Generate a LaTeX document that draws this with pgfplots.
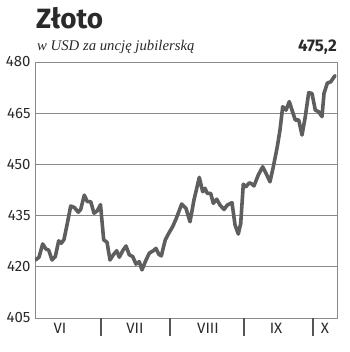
\documentclass[border=0pt]{standalone}
\usepackage{pgfplots}
\pgfplotsset{compat=1.18}
\usepackage{fontspec}
\setmainfont{Fira Sans}
\newfontfamily\serifit{Liberation Serif}[ItalicFont={Liberation Serif Italic}]
\definecolor{linegray}{HTML}{5E5E5E}
\definecolor{gridgray}{HTML}{8A8A8A}
\definecolor{txt}{HTML}{2A2A2A}
\begin{document}
\begin{tikzpicture}[x=1bp,y=1bp]
\useasboundingbox (0,0) rectangle (350,352);
\node[anchor=base west, inner sep=0pt, font=\fontsize{28}{30}\selectfont\bfseries, text=txt] at (36,324) {Złoto};
\node[anchor=base west, inner sep=0pt, font=\serifit\itshape\fontsize{14.8}{16}\selectfont, text=txt] at (37,302) {w USD za uncję jubilerską};
\node[anchor=base east, inner sep=0pt, font=\fontsize{17}{19}\selectfont\bfseries, text=txt] at (337,301) {475,2};
\begin{axis}[
  at={(35bp,34bp)}, anchor=south west,
  scale only axis, width=302bp, height=256bp,
  xmin=35, xmax=337, ymin=405, ymax=480,
  ytick={405,420,435,450,465,480},
  ymajorgrids, major grid style={gridgray, line width=0.9bp},
  axis line style={gridgray, line width=0.9bp},
  ytick style={draw=none},
  xtick={60,135,208,276,325},
  xticklabels={VI,VII,VIII,IX,X},
  xtick pos=bottom,
  major tick length=0pt,
  tick align=outside,
  extra x ticks={101,170,244,313},
  extra x tick labels={},
  extra x tick style={major tick length=18bp, tick style={draw=txt!80, line width=1.4bp}, grid=none},
  /pgf/number format/assume math mode=true,
  ticklabel style={font=\fontsize{15}{15}\selectfont, text=txt},
  yticklabel style={xshift=-1bp},
  xticklabel style={yshift=-2bp},
]
\addplot[linegray, line width=3.6bp, line join=round, line cap=round, no marks] coordinates {
(35.5,422.0)(39,422.8)(42.7,426.7)(46,425.2)(48.7,424.9)(52,422.0)(55.3,423.0)(58.7,427.6)(61.3,426.9)(64,428.0)
(67.3,432.7)(70.7,437.8)(74.3,437.4)(78.3,436.0)(80.7,436.8)(84.3,441.0)(87.3,439.1)(90.7,439.1)(94,435.7)(97.3,436.4)
(100.5,438.2)(103.7,427.9)(107,427.2)(110,422.0)(113.3,423.5)(116.7,424.7)(119.3,422.8)(122.7,424.7)(126,426.1)(129.3,423.5)
(132.7,423.0)(136,420.8)(139.3,421.5)(142,419.1)(145.3,421.5)(149.3,424.0)(153.3,424.7)(156,425.4)(158.7,423.7)(161.3,423.2)
(165.3,427.9)(168.7,429.8)(172.7,431.8)(176.3,434.2)(181.7,438.4)(186,437.1)(190,433.2)(194,439.6)(199.3,446.2)(202.7,442.0)
(205,443.0)(207.3,441.5)(210.7,441.5)(213.3,438.6)(216.7,439.8)(220,438.1)(224,436.8)(227.3,438.1)(232,438.8)(235,432.3)
(238.3,429.6)(240.7,432.7)(243.3,444.2)(246,443.5)(249.3,444.6)(251.7,444.3)(254,443.7)(258.3,446.9)(262.7,449.3)(266,447.4)
(270,444.9)(273.3,449.3)(277.3,455.2)(280,460.1)(282.7,466.9)(286,465.9)(289.3,468.4)(292,465.9)(295.3,463.0)(298.7,463.0)
(302,458.6)(305.3,464.0)(308.7,471.0)(312,470.8)(315.3,465.9)(318.7,465.4)(322,464.0)(324,470.8)(327.3,473.8)(330.7,474.2)
(335,476.0)
};
\end{axis}
\end{tikzpicture}
\end{document}
